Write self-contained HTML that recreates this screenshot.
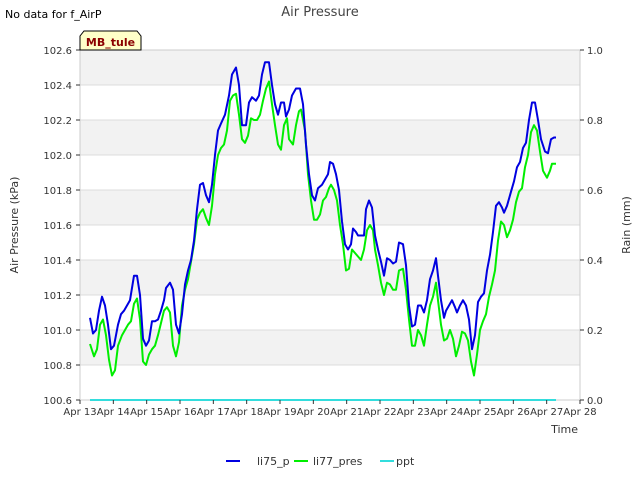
<!DOCTYPE html>
<html><head><meta charset="utf-8"><style>
body{margin:0;background:#fff;font-family:"Liberation Sans","DejaVu Sans",sans-serif;}
svg text{font-family:"DejaVu Sans","Liberation Sans",sans-serif;}
</style></head><body>
<svg id="chart" width="640" height="480" xmlns="http://www.w3.org/2000/svg">
<text x="5" y="18" font-size="11" fill="#000">No data for f_AirP</text>
<text x="320" y="16" font-size="13" fill="#444" text-anchor="middle">Air Pressure</text>
<g id="bands"></g>
<g id="grid"></g>
<rect x="80" y="50" width="500" height="350" fill="none" stroke="#ccc"/>
<g id="lines"></g>
<g id="axes"></g>
<g>
<path d="M80,50 L80,36 L84,31 L137,31 L141,36 L141,50 Z" fill="#ffffc8" stroke="#000"/>
<text x="110.5" y="46" font-size="11" font-weight="bold" fill="#8b0000" text-anchor="middle">MB_tule</text>
</g>
<text transform="translate(18,225) rotate(-90)" font-size="11" fill="#333" text-anchor="middle">Air Pressure (kPa)</text>
<text transform="translate(630,225) rotate(-90)" font-size="11" fill="#333" text-anchor="middle">Rain (mm)</text>
<text x="578" y="433" font-size="11" fill="#333" text-anchor="end">Time</text>
<g>
<g><line x1="226" y1="461" x2="240" y2="461" stroke="#0000e0" stroke-width="2"/><text x="257" y="465" font-size="11" fill="#333">li75_p</text></g>
<g><line x1="294" y1="461" x2="308" y2="461" stroke="#00ee00" stroke-width="2"/><text x="313" y="465" font-size="11" fill="#333">li77_pres</text></g>
<g><line x1="380" y1="461" x2="394" y2="461" stroke="#33dddd" stroke-width="2"/><text x="396" y="465" font-size="11" fill="#333">ppt</text></g>
</g>
</svg>
<script>
const xTickLabels=["Apr 13","Apr 14","Apr 15","Apr 16","Apr 17","Apr 18","Apr 19","Apr 20","Apr 21","Apr 22","Apr 23","Apr 24","Apr 25","Apr 26","Apr 27","Apr 28"];
const yTicks=[100.6,100.8,101.0,101.2,101.4,101.6,101.8,102.0,102.2,102.4,102.6];
const y2Ticks=[0,0.2,0.4,0.6,0.8,1.0];
const blueDays=[0.30,.39,.48,.57,.66,.75,.84,.93,1.02,1.14,1.23,1.32,1.41,1.50,1.62,1.71,1.80,1.89,1.98,2.07,2.16,2.25,2.34,2.43,2.52,2.58,2.70,2.79,2.88,2.97,3.06,3.15,3.24,3.33,3.42,3.51,3.60,3.69,3.78,3.87,3.96,4.05,4.14,4.23,4.35,4.47,4.56,4.68,4.77,4.86,4.98,5.07,5.16,5.28,5.37,5.46,5.55,5.67,5.76,5.85,5.94,6.03,6.12,6.18,6.27,6.36,6.48,6.60,6.69,6.78,6.87,6.96,7.05,7.14,7.26,7.35,7.44,7.50,7.59,7.68,7.77,7.86,7.95,8.04,8.13,8.19,8.28,8.34,8.43,8.52,8.58,8.67,8.76,8.85,8.94,9.03,9.12,9.21,9.30,9.39,9.48,9.57,9.69,9.78,9.87,9.96,10.05,10.14,10.23,10.32,10.41,10.50,10.59,10.68,10.74,10.83,10.92,10.98,11.07,11.16,11.25,11.31,11.40,11.49,11.58,11.67,11.76,11.85,11.94,12.03,12.12,12.21,12.30,12.39,12.48,12.57,12.66,12.72,12.81,12.93,13.02,13.11,13.20,13.29,13.38,13.47,13.56,13.65,13.74,13.83,13.95,14.04,14.13,14.22,14.28];
const li75p=[101.07,100.98,101.00,101.11,101.19,101.14,101.03,100.89,100.91,101.03,101.09,101.11,101.14,101.17,101.31,101.31,101.20,100.95,100.91,100.94,101.05,101.05,101.06,101.11,101.17,101.24,101.27,101.23,101.03,100.98,101.09,101.26,101.34,101.40,101.51,101.69,101.83,101.84,101.77,101.73,101.83,102.00,102.14,102.18,102.23,102.34,102.46,102.50,102.40,102.17,102.17,102.30,102.33,102.31,102.34,102.46,102.53,102.53,102.40,102.29,102.23,102.30,102.30,102.22,102.26,102.34,102.38,102.38,102.29,102.06,101.89,101.77,101.74,101.81,101.83,101.86,101.89,101.96,101.95,101.89,101.80,101.62,101.49,101.46,101.49,101.58,101.56,101.54,101.54,101.54,101.69,101.74,101.70,101.54,101.46,101.39,101.31,101.41,101.40,101.38,101.39,101.50,101.49,101.37,101.14,101.02,101.03,101.14,101.14,101.10,101.17,101.29,101.34,101.41,101.31,101.17,101.07,101.11,101.14,101.17,101.13,101.10,101.14,101.17,101.14,101.06,100.89,100.97,101.16,101.19,101.21,101.34,101.43,101.56,101.71,101.73,101.70,101.67,101.71,101.79,101.85,101.93,101.96,102.04,102.07,102.20,102.30,102.30,102.20,102.09,102.02,102.01,102.09,102.10,102.10];
const greenDays=[0.30,.42,.51,.60,.69,.78,.87,.96,1.05,1.14,1.26,1.35,1.44,1.53,1.62,1.71,1.80,1.89,1.98,2.07,2.16,2.25,2.34,2.43,2.52,2.61,2.70,2.79,2.88,2.97,3.06,3.15,3.24,3.33,3.42,3.51,3.60,3.69,3.78,3.87,3.96,4.05,4.14,4.23,4.32,4.41,4.50,4.59,4.68,4.77,4.86,4.95,5.04,5.13,5.22,5.31,5.40,5.49,5.58,5.67,5.76,5.85,5.94,6.03,6.12,6.21,6.27,6.39,6.48,6.57,6.63,6.75,6.84,6.93,7.02,7.11,7.20,7.29,7.38,7.47,7.53,7.62,7.71,7.80,7.89,7.98,8.07,8.16,8.25,8.34,8.43,8.52,8.61,8.70,8.79,8.85,8.94,9.03,9.12,9.21,9.30,9.39,9.48,9.57,9.69,9.78,9.87,9.96,10.05,10.14,10.23,10.32,10.41,10.50,10.59,10.68,10.74,10.83,10.92,11.01,11.10,11.19,11.28,11.37,11.46,11.55,11.64,11.73,11.82,11.91,12.00,12.09,12.18,12.27,12.36,12.45,12.54,12.63,12.72,12.81,12.90,12.99,13.08,13.17,13.26,13.35,13.44,13.53,13.62,13.71,13.80,13.89,14.01,14.10,14.16,14.28];
const li77pres=[100.92,100.85,100.89,101.03,101.06,100.97,100.83,100.74,100.77,100.91,100.97,101.00,101.03,101.05,101.15,101.18,101.06,100.82,100.80,100.86,100.89,100.91,100.97,101.04,101.11,101.13,101.10,100.91,100.85,100.93,101.14,101.23,101.29,101.39,101.49,101.63,101.67,101.69,101.64,101.60,101.71,101.89,102.00,102.04,102.06,102.14,102.31,102.34,102.35,102.23,102.09,102.07,102.11,102.21,102.20,102.20,102.23,102.31,102.38,102.42,102.29,102.17,102.06,102.03,102.17,102.21,102.09,102.06,102.17,102.25,102.26,102.14,101.89,101.74,101.63,101.63,101.66,101.74,101.76,101.81,101.83,101.80,101.74,101.60,101.49,101.34,101.35,101.46,101.44,101.42,101.40,101.46,101.57,101.60,101.57,101.46,101.37,101.27,101.20,101.27,101.26,101.23,101.23,101.34,101.35,101.23,101.06,100.91,100.91,101.00,100.97,100.91,101.03,101.14,101.19,101.27,101.17,101.03,100.94,100.95,101.00,100.95,100.85,100.91,100.99,100.98,100.94,100.82,100.74,100.86,101.00,101.05,101.09,101.19,101.26,101.34,101.51,101.62,101.60,101.53,101.57,101.63,101.73,101.79,101.81,101.93,102.00,102.13,102.17,102.14,102.02,101.91,101.87,101.91,101.95,101.95];
const pptDays=[0.30,14.28];
const pptVals=[0,0];

const NS="http://www.w3.org/2000/svg";
const L=80,R=580,T=50,B=400;
const xS=d=>L+d*(R-L)/15;
const yS=p=>B-(p-100.6)*(B-T)/2.0;
const y2S=v=>B-v*(B-T);
function mk(tag,attrs,parent){const e=document.createElementNS(NS,tag);for(const k in attrs)e.setAttribute(k,attrs[k]);parent.appendChild(e);return e;}
const bands=document.getElementById('bands'),grid=document.getElementById('grid'),axes=document.getElementById('axes'),lines=document.getElementById('lines');
for(let i=0;i<yTicks.length-1;i++){
  if(i%2===1){const r=mk('rect',{x:L,y:yS(yTicks[i+1]),width:R-L,height:yS(yTicks[i])-yS(yTicks[i+1]),fill:'#f2f2f2'},bands);
  
  }
}
yTicks.forEach(v=>{
  const g=mk('line',{x1:L,x2:R,y1:yS(v),y2:yS(v),stroke:'#dcdcdc'},grid);
  
  
  mk('line',{x1:L-4,x2:L,y1:yS(v),y2:yS(v),stroke:'#333'},axes);
  const t=mk('text',{x:L-8,y:yS(v)+4,'font-size':10,fill:'#333','text-anchor':'end'},axes);
  
  
  t.textContent=v.toFixed(1);
});
y2Ticks.forEach(v=>{
  mk('line',{x1:R,x2:R+4,y1:y2S(v),y2:y2S(v),stroke:'#333'},axes);
  const t=mk('text',{x:R+7,y:y2S(v)+4,'font-size':10,fill:'#333'},axes);
  
  
  t.textContent=v.toFixed(1);
});
xTickLabels.forEach((s,i)=>{
  mk('line',{x1:xS(i),x2:xS(i),y1:B,y2:B+4,stroke:'#333'},axes);
  const t=mk('text',{x:xS(i),y:B+15,'font-size':10,fill:'#333','text-anchor':'middle'},axes);
  
  
  t.textContent=s;
});
function series(days,vals,ys,color,name){
  const n=Math.min(days.length,vals.length);let d='';
  for(let i=0;i<n;i++)d+=(i?'L':'M')+xS(days[i]).toFixed(1)+','+ys(vals[i]).toFixed(1);
  const p=mk('path',{d:d,fill:'none',stroke:color,'stroke-width':2,'stroke-linejoin':'round'},lines);
  
  
}
series(pptDays,pptVals,y2S,'#33dddd','ppt-line');
series(greenDays,li77pres,yS,'#00ee00','li77-pres-line');
series(blueDays,li75p,yS,'#0000e0','li75-p-line');
</script>
</body></html>
